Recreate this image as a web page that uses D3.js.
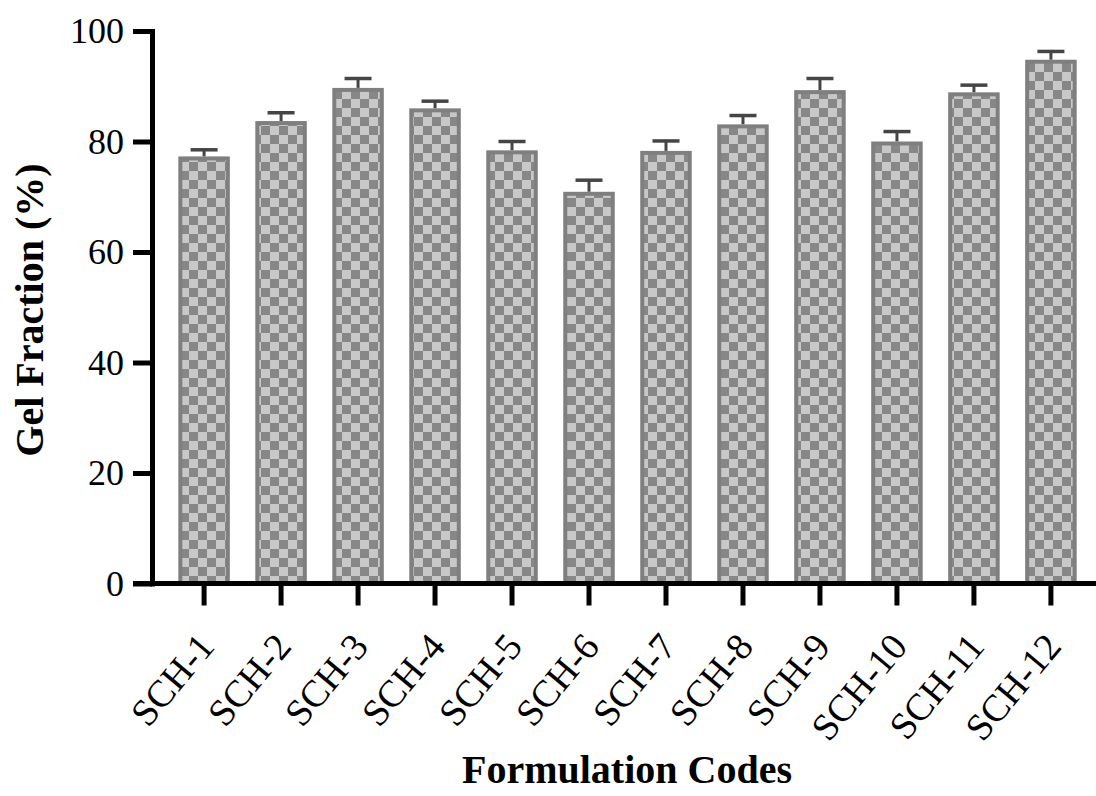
<!DOCTYPE html>
<html>
<head>
<meta charset="utf-8">
<script src="https://cdn.jsdelivr.net/npm/d3@7"></script>
<style>
  html, body { margin: 0; padding: 0; background: #fff; }
  svg { display: block; }
  text { font-family: "Liberation Serif", "Times New Roman", serif; fill: #000; }
</style>
</head>
<body>
<svg id="chart" width="1096" height="796"></svg>
<script>
const categories = ["SCH-1","SCH-2","SCH-3","SCH-4","SCH-5","SCH-6","SCH-7","SCH-8","SCH-9","SCH-10","SCH-11","SCH-12"];
const gelFraction = [77.3, 83.7, 89.7, 86.0, 78.4, 70.9, 78.3, 83.1, 89.3, 80.0, 88.9, 94.8];
const errorSD = [1.2, 1.5, 1.7, 1.3, 1.6, 2.1, 1.8, 1.6, 2.1, 1.8, 1.3, 1.5];
const yTicks = [0, 20, 40, 60, 80, 100];
const yTitle = "Gel Fraction (%)";
const xTitle = "Formulation Codes";

const svg = d3.select("#chart");
const axisX0 = 152;
const y = d3.scaleLinear().domain([0, 100]).range([583.5, 31]);
const x = d3.scaleBand().domain(categories).range([axisX0, 1103]).paddingInner(0.331).paddingOuter(0.342);

// checker pattern
const defs = svg.append("defs");
const pat = defs.append("pattern").attr("id", "checker").attr("patternUnits", "userSpaceOnUse")
  .attr("width", 18).attr("height", 18);
pat.append("rect").attr("width", 18).attr("height", 18).attr("fill", "#878787");
pat.append("rect").attr("x", 0).attr("y", 0).attr("width", 9).attr("height", 9).attr("fill", "#c8c8c8");
pat.append("rect").attr("x", 9).attr("y", 9).attr("width", 9).attr("height", 9).attr("fill", "#c8c8c8");

const data = categories.map((c, i) => ({ c, v: gelFraction[i], e: errorSD[i] }));
const bw = 4;

// error bars (upper only)
const eb = svg.append("g").attr("stroke", "#454545").attr("fill", "none");
data.forEach(d => {
  const cx = x(d.c) + x.bandwidth() / 2;
  eb.append("line").attr("x1", cx).attr("x2", cx).attr("y1", y(d.v)).attr("y2", y(d.v + d.e)).attr("stroke-width", 3);
  eb.append("line").attr("x1", cx - 13.5).attr("x2", cx + 13.5).attr("y1", y(d.v + d.e)).attr("y2", y(d.v + d.e)).attr("stroke-width", 3.5);
});

// bars
const bars = svg.append("g");
bars.selectAll("rect.outer").data(data).join("rect").attr("class", "outer")
  .attr("x", d => x(d.c)).attr("width", x.bandwidth())
  .attr("y", d => y(d.v)).attr("height", d => y(0) - y(d.v))
  .attr("fill", "#7f7f7f");
bars.selectAll("rect.inner").data(data).join("rect").attr("class", "inner")
  .attr("x", d => x(d.c) + bw).attr("width", x.bandwidth() - 2 * bw)
  .attr("y", d => y(d.v) + bw).attr("height", d => Math.max(0, y(0) - y(d.v) - bw))
  .attr("fill", "url(#checker)");

// y axis
const gy = svg.append("g").attr("transform", `translate(${axisX0},0)`)
  .call(d3.axisLeft(y).tickValues(yTicks).tickSize(19).tickSizeOuter(0).tickPadding(9));
gy.select(".domain").attr("stroke", "#000").attr("stroke-width", 5).attr("stroke-linecap", "square");
gy.selectAll(".tick line").attr("stroke", "#000").attr("stroke-width", 5);
gy.selectAll(".tick text").attr("font-size", 36).attr("font-family", "Liberation Serif, Times New Roman, serif").attr("fill", "#000");

// x axis
const gx = svg.append("g").attr("transform", `translate(0,${y(0)})`)
  .call(d3.axisBottom(x).tickSize(22).tickSizeOuter(0));
gx.select(".domain").remove();
gx.selectAll(".tick line").attr("stroke", "#000").attr("stroke-width", 5);
gx.selectAll(".tick text")
  .attr("font-size", 38).attr("font-family", "Liberation Serif, Times New Roman, serif").attr("fill", "#000")
  .attr("text-anchor", "end").attr("dy", null).attr("y", 0)
  .attr("transform", "translate(12,64) rotate(-50)");
svg.append("line").attr("x1", 133).attr("x2", 1100).attr("y1", y(0)).attr("y2", y(0))
  .attr("stroke", "#000").attr("stroke-width", 5);

// titles
svg.append("text").attr("transform", "translate(43,310) rotate(-90)")
  .attr("text-anchor", "middle").attr("font-size", 40).attr("font-weight", "bold").text(yTitle);
svg.append("text").attr("x", 627).attr("y", 783)
  .attr("text-anchor", "middle").attr("font-size", 40).attr("font-weight", "bold").text(xTitle);
</script>
</body>
</html>
